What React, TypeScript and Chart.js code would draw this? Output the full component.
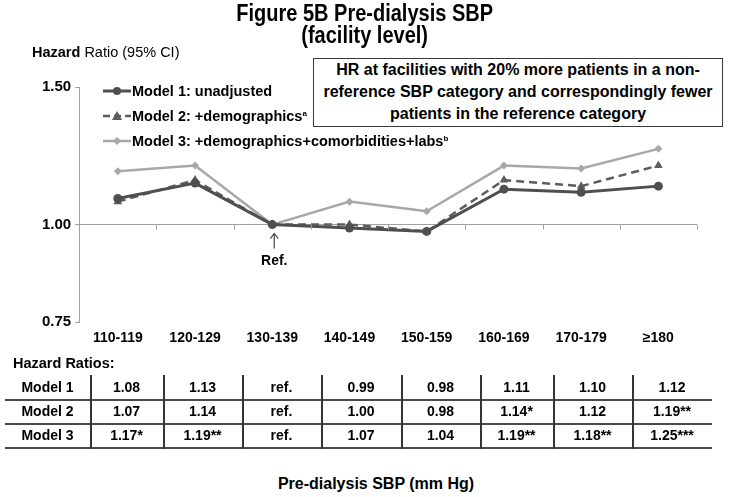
import React, { useEffect, useRef } from "react";
import { Chart, registerables } from "chart.js";

Chart.register(...registerables);

// ---- data ----
const categories = ["110-119", "120-129", "130-139", "140-149", "150-159", "160-169", "170-179", "≥180"];
const model1 = [1.08, 1.13, 1.0, 0.99, 0.98, 1.11, 1.1, 1.12];
const model2 = [1.07, 1.14, 1.0, 1.0, 0.98, 1.14, 1.12, 1.19];
const model3 = [1.17, 1.19, 1.0, 1.07, 1.04, 1.19, 1.18, 1.25];
const stars1 = ["", "", "", "", "", "", "", ""];
const stars2 = ["", "", "", "", "", "*", "", "**"];
const stars3 = ["*", "**", "", "", "", "**", "**", "***"];
const refIndex = 2;
const yTicks = [0.75, 1.0, 1.5];
const seriesNames = ["Model 1: unadjusted", "Model 2: +demographics", "Model 3: +demographics+comorbidities+labs"];
const seriesNotes = ["", "a", "b"];
const rowLabels = ["Model 1", "Model 2", "Model 3"];

const FONT = "'Liberation Sans', Arial, Helvetica, sans-serif";
const colors = ["#4f4f4f", "#5c5c5c", "#a8a8a8"];
const colWidths = [85, 73, 79, 79, 80, 79, 73, 79, 80];

const boundaryTicks = {
  id: "boundaryTicks",
  afterDatasetsDraw(chart: any) {
    const x = chart.scales.x;
    const y = chart.scales.y;
    const ctx = chart.ctx;
    const y0 = y.getPixelForValue(1);
    const n = categories.length;
    const half = (x.getPixelForValue(1) - x.getPixelForValue(0)) / 2;
    ctx.save();
    ctx.strokeStyle = "#a0a0a0";
    ctx.lineWidth = 1;
    for (let i = 0; i <= n; i++) {
      const px = i < n ? x.getPixelForValue(i) - half : x.getPixelForValue(n - 1) + half;
      ctx.beginPath();
      ctx.moveTo(Math.round(px) + 0.5, y0);
      ctx.lineTo(Math.round(px) + 0.5, y0 + 5);
      ctx.stroke();
    }
    // Ref. arrow
    const rx = x.getPixelForValue(refIndex) + 2;
    ctx.strokeStyle = "#555";
    ctx.lineWidth = 1.3;
    ctx.beginPath();
    ctx.moveTo(rx, y0 + 9);
    ctx.lineTo(rx, y0 + 24);
    ctx.moveTo(rx - 4, y0 + 14);
    ctx.lineTo(rx, y0 + 9);
    ctx.lineTo(rx + 4, y0 + 14);
    ctx.stroke();
    ctx.fillStyle = "#000";
    ctx.font = `bold 14px ${FONT}`;
    ctx.textAlign = "center";
    ctx.textBaseline = "middle";
    ctx.fillText("Ref.", rx, y0 + 37);
    ctx.restore();
  },
};

function LegendMark({ i }: { i: number }) {
  const c = colors[i];
  return (
    <svg width="28" height="12" style={{ display: "block" }}>
      <line x1="0" y1="6" x2="28" y2="6" stroke={c} strokeWidth={i === 0 ? 3 : 2.5} strokeDasharray={i === 1 ? "7 4" : undefined} />
      {i === 0 && <circle cx="14" cy="6" r="4" fill={c} />}
      {i === 1 && <polygon points="14,1 19,10 9,10" fill={c} />}
      {i === 2 && <polygon points="14,2 18,6 14,10 10,6" fill={c} />}
    </svg>
  );
}

export default function App() {
  const ref = useRef<HTMLCanvasElement>(null);

  useEffect(() => {
    if (!ref.current) return;
    const chart = new Chart(ref.current, {
      type: "line",
      data: {
        labels: categories,
        datasets: [
          {
            label: seriesNames[0],
            data: model1,
            borderColor: colors[0],
            backgroundColor: colors[0],
            borderWidth: 3,
            pointStyle: "circle",
            pointRadius: 4.5,
            pointBorderWidth: 0,
            tension: 0,
          },
          {
            label: seriesNames[1],
            data: model2,
            borderColor: colors[1],
            backgroundColor: colors[1],
            borderWidth: 2.5,
            borderDash: [8, 5],
            pointStyle: "triangle",
            pointRadius: 5,
            pointBorderWidth: 0,
            tension: 0,
          },
          {
            label: seriesNames[2],
            data: model3,
            borderColor: colors[2],
            backgroundColor: colors[2],
            borderWidth: 2.5,
            pointStyle: "rectRot",
            pointRadius: 4,
            pointBorderWidth: 0,
            tension: 0,
          },
        ],
      },
      options: {
        animation: false,
        responsive: false,
        devicePixelRatio: 1,
        layout: { padding: { left: 38, right: 32, top: 87, bottom: 5 } },
        plugins: { legend: { display: false }, tooltip: { enabled: false }, title: { display: false } },
        scales: {
          x: {
            type: "category",
            offset: true,
            grid: { display: false, drawTicks: false },
            border: { display: false },
            ticks: {
              autoSkip: false,
              maxRotation: 0,
              padding: 8,
              color: "#000",
              font: { family: FONT, size: 14, weight: "bold" },
            },
          },
          y: {
            type: "logarithmic",
            min: 0.75,
            max: 1.5,
            afterBuildTicks: (axis: any) => {
              axis.ticks = yTicks.map((v) => ({ value: v }));
            },
            grid: {
              color: (ctx: any) => (ctx.tick && ctx.tick.value === 1 ? "#a0a0a0" : "rgba(0,0,0,0)"),
              tickColor: "#a0a0a0",
              tickLength: 4,
              drawTicks: true,
            },
            border: { display: true, color: "#a0a0a0", width: 1 },
            ticks: {
              padding: 4,
              color: "#000",
              font: { family: FONT, size: 15, weight: "bold" },
              callback: (v: any) => Number(v).toFixed(2),
            },
          },
        },
      },
      plugins: [boundaryTicks],
    });
    return () => chart.destroy();
  }, []);

  const starSets = [stars1, stars2, stars3];
  const valueSets = [model1, model2, model3];

  const tableLeft = 5;
  const tableTop = 375;
  const rowH = 24;
  const colLefts: number[] = [];
  colWidths.reduce((acc, w) => {
    colLefts.push(acc);
    return acc + w;
  }, tableLeft);
  const tableWidth = colWidths.reduce((a, b) => a + b, 0);

  return (
    <div
      style={{
        position: "absolute",
        left: 0,
        top: 0,
        width: 729,
        height: 497,
        background: "#fff",
        fontFamily: FONT,
        color: "#000",
        overflow: "hidden",
      }}
    >
      <canvas ref={ref} width={729} height={360} style={{ position: "absolute", left: 0, top: 0, width: 729, height: 360 }} />

      {/* Title */}
      <div style={{ position: "absolute", left: 0, top: 2, width: 729, textAlign: "center", fontWeight: "bold", fontSize: 23, lineHeight: "22px" }}>
        <span style={{ display: "inline-block", transform: "scaleX(0.87)", transformOrigin: "center" }}>
          Figure 5B Pre-dialysis SBP
          <br />
          (facility level)
        </span>
      </div>

      {/* Y axis title */}
      <div style={{ position: "absolute", left: 32, top: 44, fontSize: 14.5, lineHeight: "17px", whiteSpace: "nowrap" }}>
        <b>Hazard</b> Ratio (95% CI)
      </div>

      {/* Legend */}
      {seriesNames.map((name, i) => (
        <div
          key={name}
          style={{ position: "absolute", left: 103, top: 82 + i * 25, height: 18, display: "flex", alignItems: "center", whiteSpace: "nowrap" }}
        >
          <LegendMark i={i} />
          <span style={{ marginLeft: 1, fontWeight: "bold", fontSize: 14.5, lineHeight: "18px" }}>
            {name}
            {seriesNotes[i] && <sup style={{ fontSize: 8, verticalAlign: "5px", lineHeight: 0 }}>{seriesNotes[i]}</sup>}
          </span>
        </div>
      ))}

      {/* Box */}
      <div
        style={{
          position: "absolute",
          left: 313,
          top: 58,
          width: 410,
          height: 69,
          boxSizing: "border-box",
          border: "1.5px solid #3a3a3a",
          background: "#fff",
          textAlign: "center",
          fontWeight: "bold",
          fontSize: 16,
          lineHeight: "22px",
          whiteSpace: "nowrap",
        }}
      >
        HR at facilities with 20% more patients in a non-
        <br />
        reference SBP category and correspondingly fewer
        <br />
        patients in the reference category
      </div>

      {/* Hazard ratios table */}
      <div style={{ position: "absolute", left: 13, top: 355, fontWeight: "bold", fontSize: 14.5, lineHeight: "17px", whiteSpace: "nowrap" }}>
        Hazard Ratios:
      </div>
      {rowLabels.map((rl, ri) => (
        <div
          key={"h" + rl}
          style={{ position: "absolute", left: tableLeft, top: tableTop + 24 + ri * rowH, width: tableWidth, height: 2, background: "#4a4a4a" }}
        />
      ))}
      {colLefts.slice(1).map((l, i) => (
        <div key={"v" + i} style={{ position: "absolute", left: l, top: tableTop, width: 1.5, height: 3 * rowH + 2, background: "#333" }} />
      ))}
      {rowLabels.map((rl, ri) =>
        [rl, ...valueSets[ri].map((v, ci) => (ci === refIndex ? "ref." : v.toFixed(2) + starSets[ri][ci]))].map((txt, ci) => (
          <div
            key={rl + ci}
            style={{
              position: "absolute",
              left: colLefts[ci],
              width: colWidths[ci],
              top: tableTop + 1 + ri * rowH,
              height: 22,
              lineHeight: "22px",
              textAlign: "center",
              fontWeight: "bold",
              fontSize: 14,
              whiteSpace: "nowrap",
            }}
          >
            {txt}
          </div>
        ))
      )}

      {/* X axis title */}
      <div style={{ position: "absolute", left: 0, top: 474, width: 752, textAlign: "center", fontWeight: "bold", fontSize: 16, lineHeight: "19px", whiteSpace: "nowrap" }}>
        Pre-dialysis SBP (mm Hg)
      </div>
    </div>
  );
}
